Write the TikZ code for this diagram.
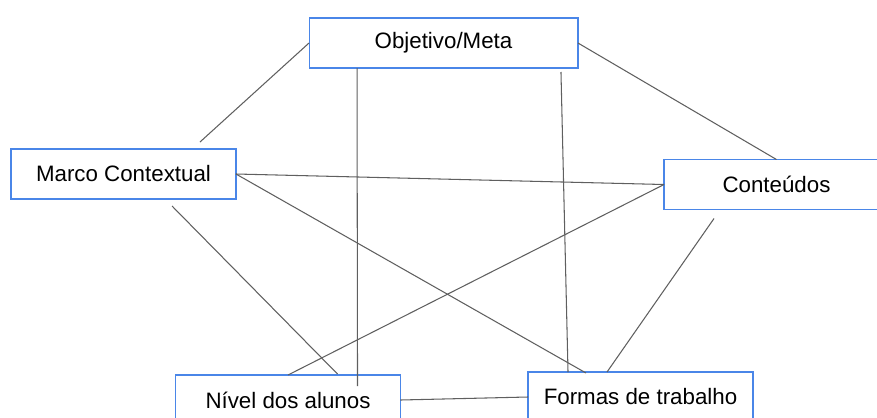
\documentclass[tikz,border=0pt]{standalone}
\usepackage{fontspec}
\setmainfont{Liberation Sans}
\usetikzlibrary{calc}

\begin{document}
\begin{tikzpicture}[x=0.02cm, y=-0.02cm, line width=0.6pt,
    box/.style={draw=boxblue, rectangle, minimum width=4.5cm, minimum height=1cm,
      inner sep=0pt, outer sep=0pt, font=\fontsize{12.7}{15}\selectfont},
    link/.style={draw=linegray, line width=0.6pt}]
  \definecolor{boxblue}{HTML}{4A86E8}
  \definecolor{linegray}{HTML}{5F5F5F}
  \useasboundingbox (0, 0) rectangle (877, 417);
  \clip (0, 0) rectangle (877, 417);

  \node[box, minimum width=5.38cm] at (443.5, 43) (objetivo) {Objetivo/Meta};
  \node[box] at (123.5, 174) (marco) {Marco Contextual};
  \node[box] at (776.5, 184.5) (conteudos) {Conteúdos};
  \node[box] at (288, 400) (nivel) {Nível dos alunos};
  \node[box] at (640.5, 397) (formas) {Formas de trabalho};

  % free ends of the connectors
  \coordinate (marcotop) at ($(marco.north east) + (-36, -7)$);
  \coordinate (marcobot) at ($(marco.south west) + (161, 7)$);
  \coordinate (objleft) at ($(objetivo.south west) + (48, 0)$);
  \coordinate (objright) at ($(objetivo.south east) + (-17, 4)$);
  \coordinate (contbot) at ($(conteudos.south west) + (50, 9)$);
  \coordinate (nivelin) at ($(nivel.north west) + (182, 11)$);
  \coordinate (niveltop) at ($(nivel.north west) + (162, -1)$);
  \coordinate (formasa) at ($(formas.north west) + (40, 0)$);
  \coordinate (formasb) at ($(formas.north west) + (58, 1)$);
  \coordinate (formasc) at ($(formas.north west) + (79, 0)$);

  \draw[link] (objetivo.west) -- (marcotop);
  \draw[link] (objetivo.east) -- (conteudos.north);
  \draw[link] (objleft) -- (nivelin);
  \draw[link] (objright) -- (formasa);
  \draw[link] (marco.east) -- (conteudos.west);
  \draw[link] (marco.east) -- (formasb);
  \draw[link] (marcobot) -- (niveltop);
  \draw[link] (conteudos.west) -- (nivel.north);
  \draw[link] (contbot) -- (formasc);
  \draw[link] (nivel.east) -- (formas.west);

\end{tikzpicture}
\end{document}
